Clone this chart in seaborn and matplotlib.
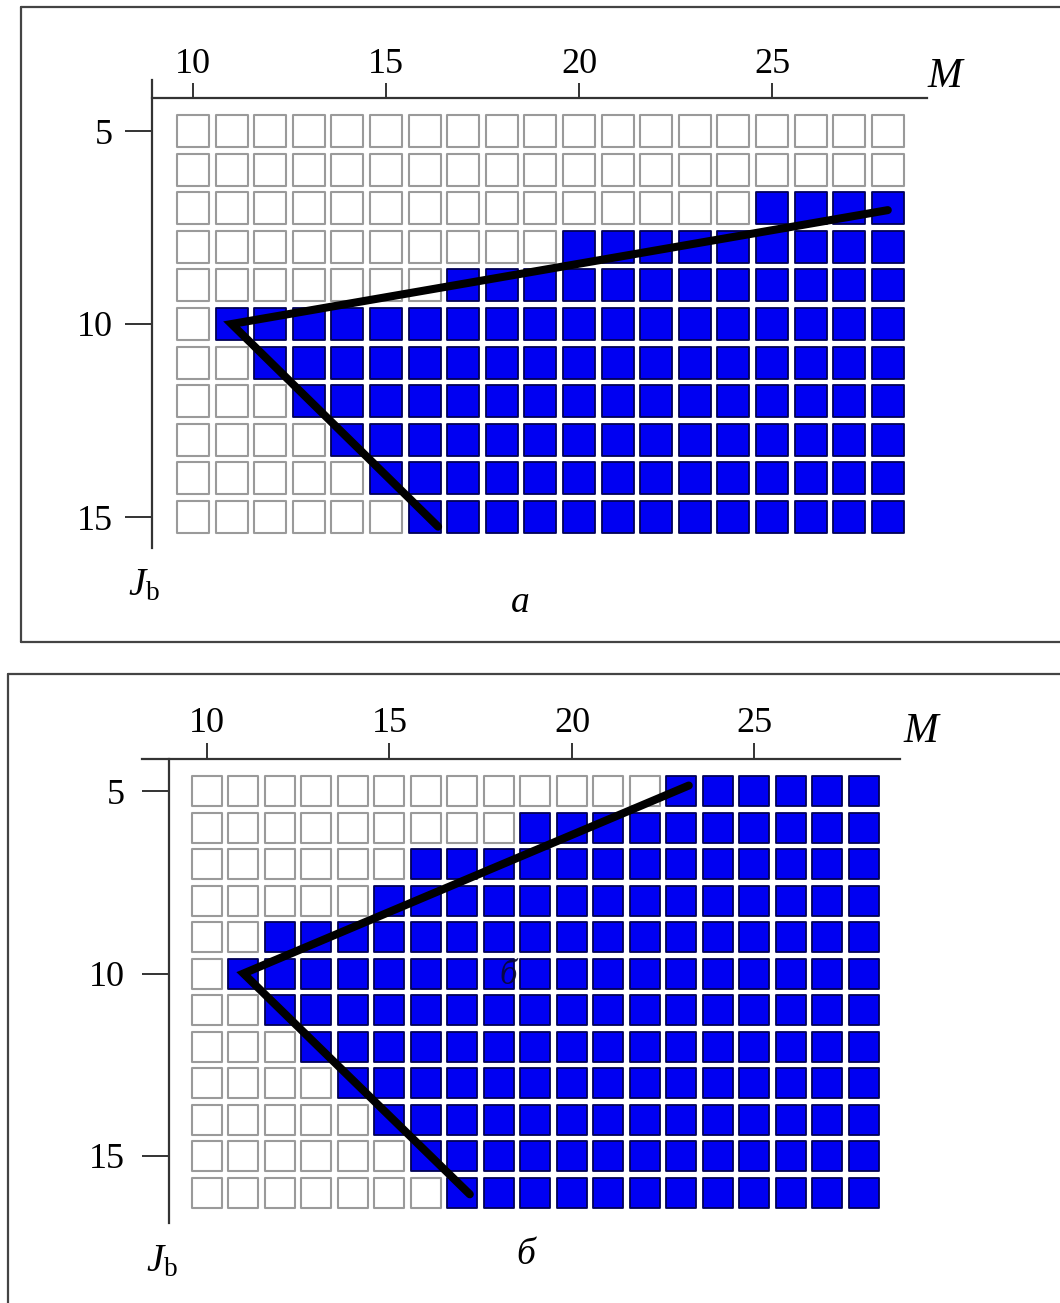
import matplotlib
matplotlib.use("Agg")
import matplotlib.pyplot as plt
from matplotlib.lines import Line2D
import pandas as pd
import seaborn as sns

# ---- data ---------------------------------------------------------------
m_values = list(range(10, 29))            # columns, M
x_ticks = [10, 15, 20, 25]
y_ticks = [5, 10, 15]

# panel a: rows J_b = 5..15, first occupied M in each row (None = empty row)
j_rows_a = list(range(5, 16))
first_filled_a = [None, None, 25, 20, 17, 11, 12, 13, 14, 15, 16]
# panel b: rows J_b = 5..16
j_rows_b = list(range(5, 17))
first_filled_b = [23, 19, 16, 15, 12, 11, 12, 13, 14, 15, 16, 17]

# boundary polylines
bound_m_a = [28.0, 11.0, 16.35]
bound_j_a = [7.05, 10.0, 15.25]
bound_m_b = [23.2, 11.0, 17.2]
bound_j_b = [4.85, 10.0, 16.05]

# ---- style ----------------------------------------------------------------
sns.set_theme(style="white")
plt.rcParams["font.family"] = ["Liberation Serif", "DejaVu Serif"]
plt.rcParams["mathtext.fontset"] = "custom"
plt.rcParams["mathtext.rm"] = "Liberation Serif"
plt.rcParams["mathtext.it"] = "Liberation Serif:italic"

W, H = 1060, 1303
fig = plt.figure(figsize=(W / 100, H / 100), dpi=100)
fig.patch.set_facecolor("white")

BLUE = "#0000f2"
BLUE_EDGE = "#000055"
GRAY_EDGE = "#9a9a9a"
AXIS_C = "#333333"
TICK_FS = 26


def rect_px(x0, y0, x1, y1):
    return [x0 / W, 1 - y1 / H, (x1 - x0) / W, (y1 - y0) / H]


def fx(x):
    return x / W


def fy(y):
    return 1 - y / H


def grid_frame(rows, first):
    recs = []
    for j, f in zip(rows, first):
        for m in m_values:
            recs.append({"M": m, "J": j, "filled": f is not None and m >= f})
    return pd.DataFrame(recs)


def draw_panel(rect, xlim, ylim, rows, first, bm, bj, msize,
               top_at=None, left_at=None, xlen=10.5, ylen=19.5, ypad=9):
    ax = fig.add_axes(rect)
    ax.set_facecolor("none")
    df = grid_frame(rows, first)
    sns.scatterplot(data=df[~df["filled"]], x="M", y="J", marker="s",
                    s=msize ** 2, color="white", edgecolor=GRAY_EDGE,
                    linewidth=1.5, ax=ax, zorder=2, legend=False)
    sns.scatterplot(data=df[df["filled"]], x="M", y="J", marker="s",
                    s=msize ** 2, color=BLUE, edgecolor=BLUE_EDGE,
                    linewidth=1.3, ax=ax, zorder=3, legend=False)
    line_df = pd.DataFrame({"M": bm, "J": bj})
    sns.lineplot(data=line_df, x="M", y="J", sort=False, estimator=None,
                 color="black", linewidth=5.8, ax=ax, zorder=4,
                 solid_capstyle="round", solid_joinstyle="miter")
    ax.set_xlim(*xlim)
    ax.set_ylim(ylim[1], ylim[0])
    ax.set_xlabel("")
    ax.set_ylabel("")
    ax.grid(False)
    ax.xaxis.tick_top()
    ax.set_xticks(x_ticks)
    ax.set_yticks(y_ticks)
    ax.spines["bottom"].set_visible(False)
    ax.spines["right"].set_visible(False)
    for s in ("top", "left"):
        ax.spines[s].set_color(AXIS_C)
        ax.spines[s].set_linewidth(1.6)
    if top_at is not None:
        ax.spines["top"].set_position(("data", top_at))
    if left_at is not None:
        ax.spines["left"].set_position(("data", left_at))
    ax.tick_params(axis="x", which="major", direction="out", top=True,
                   bottom=False, length=xlen, width=1.4, color=AXIS_C,
                   labelsize=TICK_FS, labelcolor="black", pad=2)
    ax.tick_params(axis="y", which="major", direction="out", left=True,
                   length=ylen, width=1.4, color=AXIS_C, labelsize=TICK_FS,
                   labelcolor="black", pad=ypad)
    return ax


# ---- panel a --------------------------------------------------------------
sx_a, ox_a = 38.6, 193.0     # pixels per unit, pixel of M=10
sy_a, oy_a = 38.6, 131.0     # pixels per unit, pixel of J=5
xa0, xa1, ya0, ya1 = 152, 927, 80, 548
draw_panel(rect_px(xa0, ya0, xa1, ya1),
           (10 + (xa0 - ox_a) / sx_a, 10 + (xa1 - ox_a) / sx_a),
           (5 + (ya0 - oy_a) / sy_a, 5 + (ya1 - oy_a) / sy_a),
           j_rows_a, first_filled_a, bound_m_a, bound_j_a, msize=22.5,
           top_at=5 + (98 - oy_a) / sy_a, xlen=10.5, ylen=19.5, ypad=9)

# ---- panel b --------------------------------------------------------------
sx_b, ox_b = 36.5, 207.0
sy_b, oy_b = 36.5, 791.0
xb0, xb1, yb0, yb1 = 142, 900, 759, 1223
draw_panel(rect_px(xb0, yb0, xb1, yb1),
           (10 + (xb0 - ox_b) / sx_b, 10 + (xb1 - ox_b) / sx_b),
           (5 + (yb0 - oy_b) / sy_b, 5 + (yb1 - oy_b) / sy_b),
           j_rows_b, first_filled_b, bound_m_b, bound_j_b, msize=21.5,
           left_at=10 + (169 - ox_b) / sx_b, xlen=11.5, ylen=19.5, ypad=12)

# ---- labels -----------------------------------------------------------------
lab = dict(ha="center", va="center", color="black")
fig.text(fx(945), fy(77), "M", fontsize=30, style="italic", **lab)
fig.text(fx(144), fy(586), r"$J_\mathrm{b}$", fontsize=28, **lab)
fig.text(fx(520), fy(603), "a", fontsize=27, style="italic", **lab)

fig.text(fx(921), fy(732), "M", fontsize=30, style="italic", **lab)
fig.text(fx(162), fy(1262), r"$J_\mathrm{b}$", fontsize=28, **lab)
fig.text(fx(526), fy(1255), "б", fontsize=27, style="italic", **lab)
fig.text(fx(508), fy(975), "б", fontsize=25, style="italic",
         ha="center", va="center", color="#0a0a30", alpha=0.9, zorder=10)

# ---- panel frames -----------------------------------------------------------
frame_kw = dict(transform=fig.transFigure, color="#444444", linewidth=1.6)
fig.add_artist(Line2D([fx(21), fx(1062)], [fy(7), fy(7)], **frame_kw))
fig.add_artist(Line2D([fx(21), fx(21)], [fy(7), fy(642)], **frame_kw))
fig.add_artist(Line2D([fx(21), fx(1062)], [fy(642), fy(642)], **frame_kw))
fig.add_artist(Line2D([fx(8), fx(1062)], [fy(674), fy(674)], **frame_kw))
fig.add_artist(Line2D([fx(8), fx(8)], [fy(674), fy(1305)], **frame_kw))

fig.savefig("out.png", dpi=100, facecolor="white")
